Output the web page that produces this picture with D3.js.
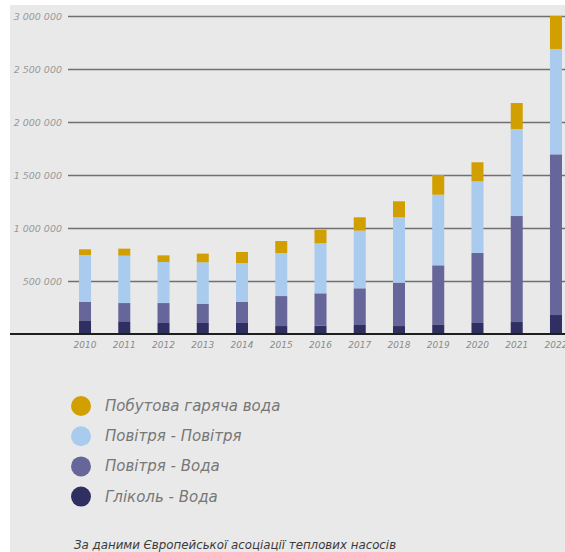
<!DOCTYPE html>
<html><head><meta charset="utf-8">
<script src="https://cdn.jsdelivr.net/npm/d3@7"></script>
<style>
html,body{margin:0;padding:0;background:#fff;}
svg{display:block;}
</style></head>
<body>
<svg id="c" width="565" height="552"></svg>
<script>
const years = ["2010","2011","2012","2013","2014","2015","2016","2017","2018","2019","2020","2021","2022"];
const glycolWater = [129000,120000,104000,104000,104000,75000,78000,85000,75000,91000,104000,113000,179000];
const airWater    = [173000,172000,188000,182000,198000,283000,306000,346000,409000,557000,660000,1000000,1516000];
const airAir      = [443000,447000,387000,390000,368000,406000,472000,544000,617000,666000,676000,821000,994000];
const hotWater    = [54000,66000,63000,82000,104000,113000,128000,126000,151000,186000,180000,245000,311000];
const yTicks = [0,500000,1000000,1500000,2000000,2500000,3000000];
const seriesNames = ["Гліколь - Вода","Повітря - Вода","Повітря - Повітря","Побутова гаряча вода"];
const seriesColors = ["#2f2f61","#67669b","#a8cbee","#d29f00"];
const legendOrder = [3,2,1,0];
const source = "За даними Європейської асоціації теплових насосів";

const svg = d3.select("#c");
const FONT = "'DejaVu Sans', sans-serif";
svg.append("rect").attr("x",10).attr("y",5).attr("width",555).attr("height",547).attr("fill","#e9e9e9");

const y = d3.scaleLinear().domain([0,3000000]).range([334,16]);
const x = d3.scaleBand().domain(years).range([65.4,575.6]).paddingInner(0.694).paddingOuter(0.347);

const fmt = v => d3.format(",")(v).replace(/,/g," ");

// gridlines
const yAxis = d3.axisLeft(y).tickValues(yTicks.filter(t=>t>0)).tickSize(-(565-68)).tickFormat(fmt).tickPadding(6);
const gy = svg.append("g").attr("transform","translate(68,0)").call(yAxis);
gy.select(".domain").remove();
gy.selectAll(".tick line").attr("stroke","#707070").attr("stroke-width",1.4);
gy.selectAll(".tick text").attr("font-family",FONT).attr("font-style","italic").attr("font-size",9.5).attr("fill","#999").attr("x",-6);

// stacks
const table = years.map((yr,i)=>({year:yr, s0:glycolWater[i], s1:airWater[i], s2:airAir[i], s3:hotWater[i]}));
const stack = d3.stack().keys(["s0","s1","s2","s3"])(table);
svg.append("g").selectAll("g").data(stack).join("g")
  .attr("fill",(d,i)=>seriesColors[i])
  .selectAll("rect").data(d=>d).join("rect")
  .attr("x",d=>x(d.data.year)).attr("width",x.bandwidth())
  .attr("y",d=>y(d[1])).attr("height",d=>y(d[0])-y(d[1]));

// baseline
svg.append("line").attr("x1",10).attr("x2",565).attr("y1",y(0)).attr("y2",y(0)).attr("stroke","#1e1e1e").attr("stroke-width",2);

// x axis labels
const xAxis = d3.axisBottom(x).tickSize(0).tickPadding(8);
const gx = svg.append("g").attr("transform",`translate(0,${y(0)})`).call(xAxis);
gx.select(".domain").remove();
gx.selectAll(".tick text").attr("font-family",FONT).attr("font-style","italic").attr("font-size",9).attr("fill","#8a8a8a");

// legend
const lg = svg.append("g");
legendOrder.forEach((si,k)=>{
  const cy = 406 + k*30.2;
  lg.append("circle").attr("cx",81).attr("cy",cy).attr("r",10).attr("fill",seriesColors[si]);
  lg.append("text").attr("x",105).attr("y",cy+5).text(seriesNames[si])
    .attr("font-family",FONT).attr("font-style","italic").attr("font-size",15).attr("fill","#777");
});

svg.append("text").attr("x",74).attr("y",549).text(source)
  .attr("font-family",FONT).attr("font-style","italic").attr("font-size",11.8).attr("fill","#3a3a3a");
</script>
</body></html>
